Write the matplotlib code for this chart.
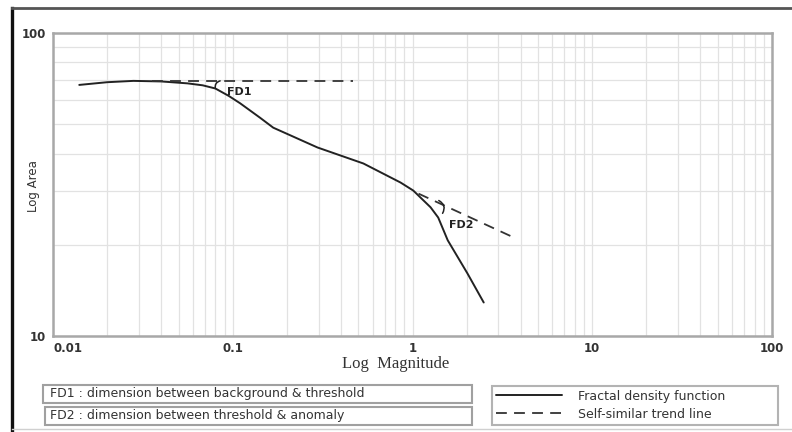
import matplotlib
matplotlib.use("Agg")
import matplotlib.pyplot as plt
from matplotlib.lines import Line2D
from matplotlib.patches import Rectangle
from matplotlib.ticker import LogLocator, NullFormatter

# ---- data ----
magnitude = [0.0140, 0.020, 0.028, 0.040, 0.056, 0.068, 0.080, 0.095, 0.110, 0.142,
             0.168, 0.296, 0.533, 0.858, 1.01, 1.26, 1.39, 1.57, 2.02, 2.49]
area = [67.4, 68.8, 69.5, 69.2, 68.2, 67.2, 65.6, 62.0, 58.6, 52.5,
        48.7, 41.9, 37.1, 32.1, 30.2, 26.6, 24.6, 20.7, 16.1, 12.9]

trend1_x = [0.0356, 0.469]
trend1_y = [69.5, 69.5]
trend2_x = [1.08, 3.75]
trend2_y = [29.5, 21.0]

fd1_arc = [(0.0851, 69.5), (0.0800, 65.6)]
fd1_label = (0.0931, 63.9)
fd2_arc = [(1.40, 28.0), (1.47, 25.4)]
fd2_label = (1.587, 23.2)

xticks = [0.01, 0.1, 1, 10, 100]
xtick_labels = ["0.01", "0.1", "1", "10", "100"]
yticks = [10, 100]
ytick_labels = ["10", "100"]

legend_labels = ["Fractal density function", "Self-similar trend line"]
fd_texts = ["FD1 : dimension between background & threshold",
            "FD2 : dimension between threshold & anomaly"]

W, H = 792, 432
fig = plt.figure(figsize=(W / 100, H / 100), dpi=100)
fig.patch.set_facecolor("white")

def fx(px):
    return px / W

def fy(py):
    return 1 - py / H

ax = fig.add_axes([fx(53), fy(336), fx(772) - fx(53), fy(33) - fy(336)])
ax.set_xscale("log")
ax.set_yscale("log")
ax.set_xlim(0.01, 100)
ax.set_ylim(10, 100)

grid_c = "#e2e2e2"
ax.xaxis.set_minor_locator(LogLocator(base=10, subs=range(2, 10)))
ax.yaxis.set_minor_locator(LogLocator(base=10, subs=range(2, 10)))
ax.xaxis.set_minor_formatter(NullFormatter())
ax.yaxis.set_minor_formatter(NullFormatter())
ax.grid(True, which="both", color=grid_c, lw=0.9)
ax.set_axisbelow(True)

ax.set_xticks(xticks)
ax.set_xticklabels(xtick_labels)
ax.set_yticks(yticks)
ax.set_yticklabels(ytick_labels)
ax.tick_params(which="both", length=0)
ax.tick_params(axis="x", pad=4)
ax.tick_params(axis="y", pad=5)
for lab in ax.get_xticklabels() + ax.get_yticklabels():
    lab.set_fontsize(8.5)
    lab.set_fontweight("bold")
    lab.set_color("#333333")
    lab.set_family("DejaVu Sans")
ax.get_xticklabels()[0].set_ha("left")

for sp in ax.spines.values():
    sp.set_color("#a8a8a8")
    sp.set_linewidth(1.8)

line_c = "#222222"
l1, = ax.plot(magnitude, area, color=line_c, lw=1.4, solid_capstyle="round",
              solid_joinstyle="round")
l2, = ax.plot(trend1_x, trend1_y, color="#333333", lw=1.3, linestyle=(0, (6, 4)))
ax.plot(trend2_x, trend2_y, color="#333333", lw=1.3, linestyle=(0, (6, 4)))

ax.annotate("", xy=fd1_arc[1], xytext=fd1_arc[0],
            arrowprops=dict(arrowstyle="-", color=line_c, lw=1.1,
                            connectionstyle="arc3,rad=0.45",
                            shrinkA=0, shrinkB=0))
ax.annotate("", xy=fd2_arc[1], xytext=fd2_arc[0],
            arrowprops=dict(arrowstyle="-", color=line_c, lw=1.1,
                            connectionstyle="arc3,rad=-0.5",
                            shrinkA=0, shrinkB=0))
ax.text(fd1_label[0], fd1_label[1], "FD1", fontsize=8, fontweight="bold",
        color=line_c, ha="left", va="center")
ax.text(fd2_label[0], fd2_label[1], "FD2", fontsize=8, fontweight="bold",
        color=line_c, ha="left", va="center")

fig.text(fx(33), fy(186), "Log Area", rotation=90, fontsize=8.5,
         color="#333333", ha="center", va="center")
fig.text(fx(396), fy(364), "Log  Magnitude", family="Liberation Serif",
         fontsize=12, color="#333333", ha="center", va="center")

# outer frame
fig.add_artist(Line2D([fx(12), fx(12)], [fy(8), fy(432)], color="#111111", lw=2.4))
fig.add_artist(Line2D([fx(12), fx(792)], [fy(8), fy(8)], color="#555555", lw=2.0))
fig.add_artist(Line2D([fx(12), fx(792)], [fy(429), fy(429)], color="#d0d0d0", lw=1.0))

# FD description boxes
box_c = "#a0a0a0"
for (x0, y0, x1, y1), t in zip([(43, 385, 472, 403), (45, 407, 472, 425)], fd_texts):
    fig.add_artist(Rectangle((fx(x0), fy(y1)), fx(x1) - fx(x0), fy(y0) - fy(y1),
                             transform=fig.transFigure, fill=False,
                             edgecolor=box_c, lw=1.5))
    fig.text(fx(50), fy((y0 + y1) / 2), t, fontsize=9, color="#333333",
             ha="left", va="center")

leg = fig.legend([l1, l2], legend_labels, loc="upper left",
                 bbox_to_anchor=(fx(492), fy(425), fx(778) - fx(492), fy(386) - fy(425)),
                 mode="expand", frameon=True, fancybox=False, edgecolor=box_c,
                 fontsize=9, handlelength=5.3, handletextpad=1.3,
                 borderpad=0.3, labelspacing=0.4, borderaxespad=0)
leg.get_frame().set_linewidth(1.5)
for t in leg.get_texts():
    t.set_color("#333333")

fig.savefig("out.png", dpi=100, facecolor="white")
